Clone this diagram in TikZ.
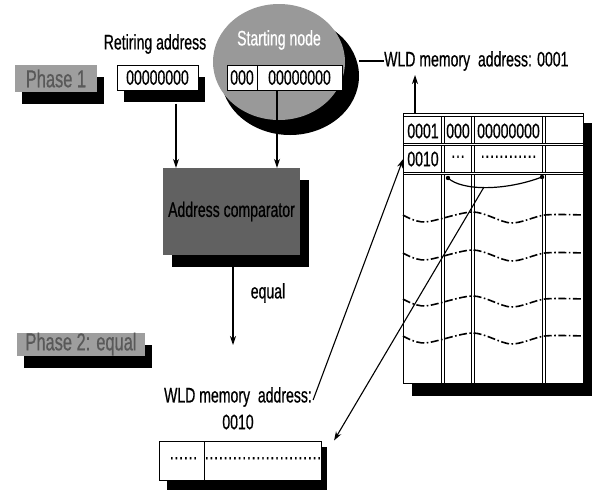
\documentclass[tikz,border=0pt]{standalone}
\usepackage{fontspec}
\setmainfont{Liberation Sans}[FakeStretch=0.67,FakeBold=0.6]
\usetikzlibrary{shapes.geometric,shadows,arrows.meta,calc}
\begin{document}
\begin{tikzpicture}[x=1pt,y=-1pt,
  lab/.style={font=\fontsize{21}{24}\selectfont, inner sep=0pt},
  cell/.style={draw, line width=1pt, fill=white, minimum height=25pt, inner sep=0pt, font=\fontsize{21}{24}\selectfont},
  phase/.style={fill=black!38, text=black!65, font=\fontsize{24.5}{28}\selectfont, inner sep=0pt,
     drop shadow={shadow xshift=7pt, shadow yshift=-12pt, fill=black, opacity=1}},
  arr/.style={-{Stealth[length=9pt,width=6pt]}, line width=1.1pt},
  wave/.style={line width=1.6pt, dash pattern=on 8pt off 2.5pt on 1.6pt off 2.5pt},
  dbl/.style={double, double distance=1.6pt, line width=0.8pt},
]
\useasboundingbox (0,0) rectangle (592,491);

% Phase labels
\node[phase, minimum width=82pt, minimum height=27pt] (ph1) at (56,78.5) {Phase 1};
\node[phase, minimum width=128pt, minimum height=23pt] (ph2) at (81,344) {Phase 2: equal};

% Retiring address
\node[lab] (retlab) at (155,44) {Retiring address};
\node[cell, minimum width=81pt, drop shadow={shadow xshift=7pt, shadow yshift=-12pt, fill=black, opacity=1}] (ret) at (157.5,77.5) {00000000};

% Starting node ellipse
\node[ellipse, fill=black, minimum width=138pt, minimum height=118pt, inner sep=0pt] (snsh) at (290,76) {};
\node[ellipse, fill=black!40, minimum width=132pt, minimum height=116pt, inner sep=0pt] (sn) at (279,62) {};
\node[lab, text=white] (snlab) at (279,40) {Starting node};
\node[cell, minimum width=30pt] (s1) at (242,77.5) {000};
\node[cell, minimum width=85pt] (s2) at (299.5,77.5) {00000000};

% WLD memory address 0001
\node[lab, anchor=west] (wld1) at (384,61) {WLD memory~ address: 0001};
\draw[line width=1.1pt] (wld1.west) -- (wld1.west -| snsh.east);

% Comparator
\node[fill=black!62, minimum width=137pt, minimum height=87pt, inner sep=0pt,
  font=\fontsize{21}{24}\selectfont, text=black,
  drop shadow={shadow xshift=9pt, shadow yshift=-12pt, fill=black, opacity=1}] (comp) at (231.5,211.5) {Address comparator};

\draw[arr] ([xshift=18.5pt,yshift=-13pt]ret.south) -- ([xshift=18.5pt]ret.south |- comp.north);
\draw[arr] ([xshift=-22.5pt]s2.south) -- ([xshift=-22.5pt]s2.south |- comp.north);

\coordinate (eqend) at (233,345);
\draw[arr] ([xshift=1.5pt,yshift=-12pt]comp.south) -- (eqend);
\node[lab] (eqlab) at (268,293) {equal};

% Memory table
\fill (412,123) rectangle (592,396);
\fill[white] (403,113) rectangle (583,383);
\foreach \x in {443,473,544} \draw[dbl] (\x,113) -- (\x,383);
\foreach \y in {115,144.5,173.5} \draw[dbl] (403,\y) -- (583,\y);
\draw[line width=1pt] (403,113) rectangle (583,383);
\coordinate (ttop) at (415,113);

\node[lab] (t11) at (423,131) {0001};
\node[lab] (t12) at (458,131) {000};
\node[lab] (t13) at (508.5,131) {00000000};
\node[lab] (t21) at (423,159) {0010};
\node[lab] (t22) at (458,159) {···};
\node[lab] (t23) at (508.5,159) {············};

\foreach \y in {215,253,299,336}
  \draw[wave] plot[smooth] coordinates {(403,\y) (425,\y+7) (473,\y-3) (511,\y+8) (545,\y) (583,\y)};

\coordinate (bl) at (448,178);
\coordinate (br) at (542,177);
\coordinate (cm) at (484,187);
\draw[line width=1.2pt] (bl) .. controls (462,191) and (505,191) .. (br);
\fill (bl) circle (2.2);
\fill (br) circle (2.2);

\coordinate (wtip) at (415,75);
\draw[arr] (ttop) -- (wtip);

% Bottom
\node[lab] (wld2) at (238,397) {WLD memory~ address:};
\node[lab] (wld2b) at (238,422) {0010};
\fill (167,447) rectangle (327,490);
\node[cell, minimum width=49pt, minimum height=39pt] (bb1) at (183.5,460.5) {······};
\node[cell, minimum width=110pt, minimum height=39pt] (bb2) at (263,460.5) {·························};

\draw[arr] (cm) -- ([xshift=12pt]bb2.north east);
\draw[arr] ([xshift=1pt,yshift=-3pt]wld2.east) -- ([xshift=-4pt]t21.west);
\end{tikzpicture}
\end{document}
